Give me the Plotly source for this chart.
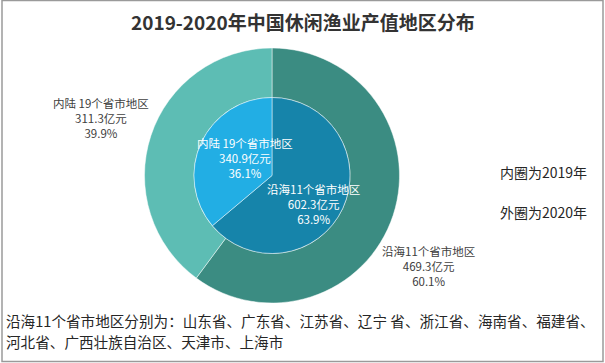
import plotly.graph_objects as go

W, H = 605, 363

regions = ["沿海11个省市地区", "内陆 19个省市地区"]
values_2020 = [469.3, 311.3]
values_2019 = [602.3, 340.9]
pct_2020 = ["60.1%", "39.9%"]
pct_2019 = ["63.9%", "36.1%"]

title = "2019-2020年中国休闲渔业产值地区分布"
legend_lines = ["内圈为2019年", "外圈为2020年"]
note_lines = ["沿海11个省市地区分别为：山东省、广东省、江苏省、辽宁 省、浙江省、海南省、福建省、",
              "河北省、广西壮族自治区、天津市、上海市"]

outer_colors = ["#3B8C82", "#5DBDB4"]
inner_colors = ["#1684AA", "#22AEE4"]

FONT = "Noto Sans CJK SC"

cx, cy = 272, 175.5
R_out, R_in = 127.5, 78


def dom(r):
    return dict(x=[(cx - r) / W, (cx + r) / W],
                y=[(H - cy - r) / H, (H - cy + r) / H])


fig = go.Figure()
fig.add_trace(go.Pie(
    labels=regions, values=values_2020, hole=R_in / R_out, sort=False,
    direction="clockwise", rotation=0, textinfo="none", hoverinfo="label+value+percent",
    marker=dict(colors=outer_colors, line=dict(color="rgba(255,255,255,0.6)", width=0.8)),
    domain=dom(R_out), showlegend=False))
fig.add_trace(go.Pie(
    labels=regions, values=values_2019, sort=False,
    direction="clockwise", rotation=0, textinfo="none", hoverinfo="label+value+percent",
    marker=dict(colors=inner_colors, line=dict(color="rgba(255,255,255,0.6)", width=0.8)),
    domain=dom(R_in), showlegend=False))

# label positions (pixels): outer coastal, outer inland, inner coastal, inner inland
label_pos = {
    ("out", 0): (428, 266), ("out", 1): (101, 118),
    ("in", 0): (313, 204), ("in", 1): (245, 158),
}
anns = []
for i, name in enumerate(regions):
    for ring, vals, pcts, col in (("out", values_2020, pct_2020, "#404040"),
                                  ("in", values_2019, pct_2019, "#FFFFFF")):
        x, y = label_pos[(ring, i)]
        anns.append(dict(x=x / W, y=1 - y / H, xref="paper", yref="paper",
                         text=f"{name}<br>{vals[i]:.1f}亿元<br>{pcts[i]}",
                         showarrow=False, xanchor="center", yanchor="middle",
                         font=dict(family=FONT, size=11.5, color=col)))

anns.append(dict(x=303 / W, y=1 - 22 / H, xref="paper", yref="paper", text=f"<b>{title}</b>",
                 showarrow=False, xanchor="center", yanchor="middle",
                 font=dict(family=FONT, size=19, color="#333333")))
for j, t in enumerate(legend_lines):
    anns.append(dict(x=589 / W, y=1 - (172 + 40 * j) / H, xref="paper", yref="paper", text=t,
                     showarrow=False, xanchor="right", yanchor="middle",
                     font=dict(family=FONT, size=14, color="#262626")))
for j, t in enumerate(note_lines):
    anns.append(dict(x=4 / W, y=1 - (320 + 21 * j) / H, xref="paper", yref="paper", text=t,
                     showarrow=False, xanchor="left", yanchor="middle",
                     font=dict(family=FONT, size=14.6, color="#262626")))

fig.update_layout(
    width=W, height=H, margin=dict(l=0, r=0, t=0, b=0),
    paper_bgcolor="white", plot_bgcolor="white",
    annotations=anns,
    shapes=[dict(type="rect", xref="paper", yref="paper",
                 x0=2 / W, x1=603 / W, y0=1 - 361.5 / H, y1=1 - 0.5 / H,
                 line=dict(color="#9A9A9A", width=1.5))],
)
fig.write_html("out.html", config={"displayModeBar": False},
               post_script="document.body.style.margin='0';document.body.style.overflow='hidden';")
